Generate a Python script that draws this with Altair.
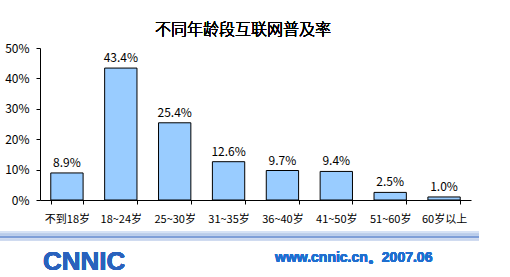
import altair as alt
import pandas as pd

categories = ["不到18岁", "18~24岁", "25~30岁", "31~35岁", "36~40岁", "41~50岁", "51~60岁", "60岁以上"]
values = [8.9, 43.4, 25.4, 12.6, 9.7, 9.4, 2.5, 1.0]
labels = ["8.9%", "43.4%", "25.4%", "12.6%", "9.7%", "9.4%", "2.5%", "1.0%"]
y_ticks = [0, 10, 20, 30, 40, 50]
title_text = "不同年龄段互联网普及率"
footer_text = "www.cnnic.cn。2007.06"
logo_text = "CNNIC"

df = pd.DataFrame({"cat": categories, "val": values, "lab": labels})

FONT = "Noto Sans CJK SC"
W, H = 431, 152

x = alt.X("cat:N", sort=categories, title=None,
          scale=alt.Scale(paddingInner=0.4, paddingOuter=0.2),
          axis=alt.Axis(labelAngle=0, tickBand="extent", tickSize=4, tickColor="black",
                        domainColor="black", labelFont=FONT, labelFontSize=11,
                        labelColor="black", labelPadding=9, grid=False, labelOverlap=False))
y = alt.Y("val:Q", title=None,
          scale=alt.Scale(domain=[0, 50], nice=False),
          axis=alt.Axis(values=y_ticks, labelExpr="datum.value + '%'", tickSize=4,
                        tickColor="black", domainColor="black", labelFont=FONT,
                        labelFontSize=12, labelColor="black", labelPadding=7, grid=False,
                        labelOverlap=False, labelBound=False, labelFlush=False))

bars = alt.Chart(df).mark_bar(color="#99CCFF", stroke="black", strokeWidth=1).encode(x=x, y=y)
text = alt.Chart(df).mark_text(dy=-10, font=FONT, fontSize=12, color="black").encode(
    x=x, y=y, text="lab:N")

title = alt.Chart(df).mark_text(font=FONT, fontSize=16, fontWeight=300, color="black",
                                clip=False).encode(
    x=alt.value(203), y=alt.value(-18), text=alt.value(title_text))

line_specs = [(184, "#d6e2f4", 1.5), (186.5, "#b8cbea", 1.5), (189, "#7f9fd8", 2), (191.5, "#c9d7ef", 1.5)]
rules = []
for yy, col, sw in line_specs:
    rules.append(alt.Chart(df).mark_rule(color=col, strokeWidth=sw, clip=False).encode(
        x=alt.value(-40), x2=alt.value(439), y=alt.value(yy)))

logo = alt.Chart(df).mark_text(font="Liberation Sans", fontSize=26, fontWeight="bold",
                               color="#2a62bd", align="left", clip=False).encode(
    x=alt.value(3), y=alt.value(214), text=alt.value(logo_text))
footer = alt.Chart(df).mark_text(font="Liberation Sans", fontSize=14, fontWeight="bold",
                                 color="#1f6fd0", align="left", clip=False).encode(
    x=alt.value(235), y=alt.value(210), text=alt.value(footer_text))

chart = alt.layer(bars, text, title, *rules, logo, footer).properties(
    width=W, height=H,
    autosize=alt.AutoSizeParams(type="none"),
    padding={"left": 40, "top": 48, "right": 39, "bottom": 77},
    background="white",
).configure_view(stroke=None)

chart.save("out.html", embed_options={"renderer": "svg", "actions": False})
